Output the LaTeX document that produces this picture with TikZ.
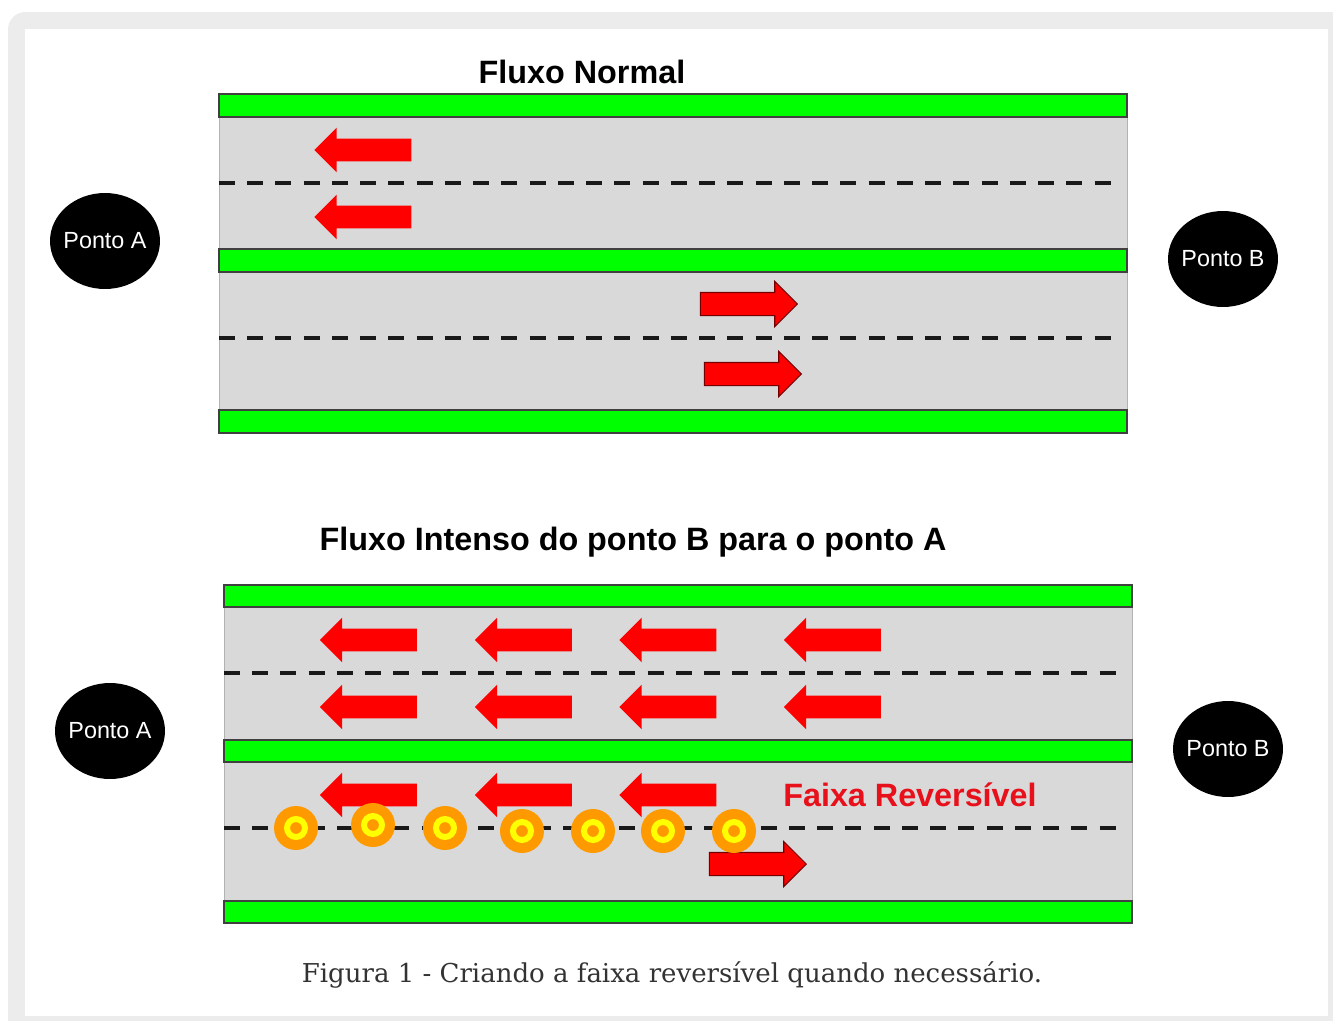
\documentclass[tikz,border=0pt]{standalone}
\usepackage{fontspec}
\setmainfont{Liberation Sans}
\newfontfamily\capfont{DejaVu Serif}
\definecolor{rdgreen}{RGB}{0,255,0}
\definecolor{rdlane}{RGB}{217,217,217}
\definecolor{rdred}{RGB}{255,0,0}
\definecolor{rdorange}{RGB}{255,153,0}
\definecolor{rdyellow}{RGB}{255,255,0}
\definecolor{framegray}{RGB}{236,236,236}
\definecolor{txtred}{RGB}{232,16,26}
\usetikzlibrary{positioning,shapes.arrows,shapes.geometric}

\begin{document}
\begin{tikzpicture}[x=0.02cm, y=-0.02cm,
  carrow/.style={single arrow, fill=rdred, draw=none,
                 inner xsep=0pt, inner ysep=0.22cm, minimum height=1.94cm,
                 single arrow head extend=0.22cm},
  larrow/.style={carrow, shape border rotate=180, xshift=0.12cm},
  rarrow/.style={carrow, draw=red!45!black, line width=0.6pt, xshift=-0.12cm},
  greenbar/.style={fill=rdgreen, draw=black!75, line width=0.8pt},
  lane/.style={fill=rdlane, draw=black!30, line width=0.5pt},
  lanedash/.style={draw=black!90, line width=1.9pt, dash pattern=on 0.32cm off 0.245cm},
  ponto/.style={ellipse, fill=black, text=white, inner xsep=-0.06cm, inner ysep=0pt,
                minimum width=2.2cm, minimum height=1.92cm,
                font=\fontsize{13.3}{16}\selectfont},
  title/.style={font=\fontsize{18.4}{22}\selectfont\bfseries},
  cone/.style={circle, fill=rdorange, minimum size=0.88cm, inner sep=0pt,
               path picture={\draw[rdyellow, line width=3.4pt]
                 (path picture bounding box.center) circle (0.18cm);}}]

\clip (0,0) rectangle (1333,1021);
\fill[white] (0,0) rectangle (1333,1021);
\fill[framegray, rounded corners=10pt] (8,12) rectangle (1360,1040);
\fill[white] (25,29) rectangle (1328,1016);

% === Fluxo Normal ===
\node[title] (t1) at (582,72) {Fluxo Normal};
\draw[lane] (219,117) rectangle (1127,410);
\draw[greenbar] (219,94) rectangle (1127,117);
\draw[greenbar] (219,249) rectangle (1127,272);
\draw[greenbar] (219,410) rectangle (1127,433);
\draw[lanedash] (219,183) -- (1122,183);
\draw[lanedash] (219,338) -- (1122,338);

\node[larrow] (n1) at (362.5,150) {};
\node[larrow] (n2) at (362.5,217) {};
\node[rarrow] (n3) at (749,304) {};
\node[rarrow] (n4) at (753,374) {};

\node[ponto] (pa1) at (105,241) {Ponto A};
\node[ponto] (pb1) at (1223,259) {Ponto B};

% === Fluxo Intenso ===
\node[title] (t2) at (633,542) {Fluxo Intenso do ponto B para o ponto A};
\draw[lane] (224,607) rectangle (1132,901);
\draw[greenbar] (224,585) rectangle (1132,607);
\draw[greenbar] (224,740) rectangle (1132,762);
\draw[greenbar] (224,901) rectangle (1132,923);
\draw[lanedash] (224,673) -- (1127,673);
\draw[lanedash] (224,828) -- (1127,828);

\node[larrow] (i1) at (368,640) {};
\node[larrow] (i2) at (523,640) {};
\node[larrow] (i3) at (667.5,640) {};
\node[larrow] (i4) at (832,640) {};
\node[larrow] (i5) at (368,707) {};
\node[larrow] (i6) at (523,707) {};
\node[larrow] (i7) at (667.5,707) {};
\node[larrow] (i8) at (832,707) {};
\node[larrow] (i9) at (368,795) {};
\node[larrow] (i10) at (523,795) {};
\node[larrow] (i11) at (667.5,795) {};
\node[rarrow] (i12) at (758,864) {};

% cones of the reversible lane
\node[cone] (c1) at (296,828) {};
\node[cone] (c2) at (373,825) {};
\node[cone] (c3) at (445,828) {};
\node[cone] (c4) at (522,831) {};
\node[cone] (c5) at (593,831) {};
\node[cone] (c6) at (663,831) {};
\node[cone] (c7) at (734,831) {};

\node[title, text=txtred] (fr) at (910,795) {Faixa Reversível};

\node[ponto] (pa2) at (110,731) {Ponto A};
\node[ponto] (pb2) at (1228,749) {Ponto B};

% caption
\node[font=\capfont\fontsize{14.8}{18}\selectfont, text=black!80] (cap) at (672,975)
     {Figura 1 - Criando a faixa reversível quando necessário.};

\end{tikzpicture}
\end{document}
